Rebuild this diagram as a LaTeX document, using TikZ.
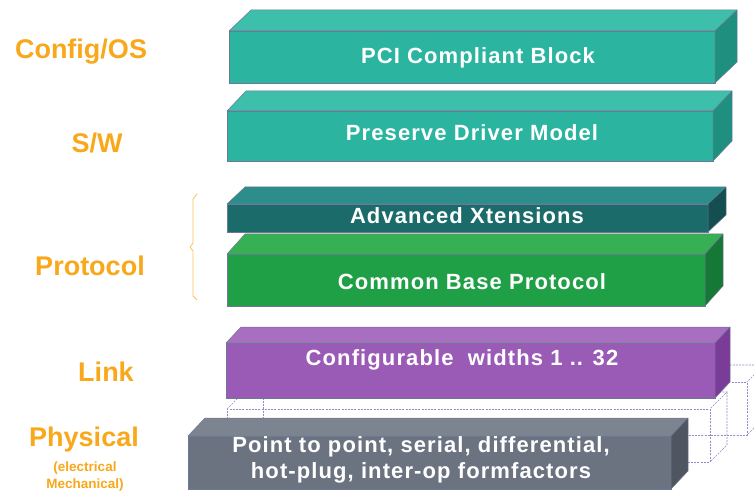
\documentclass[tikz,border=0pt]{standalone}
\usepackage{fontspec}
\setmainfont{Liberation Sans}
\newfontfamily\slabfont[LetterSpace=5]{Liberation Sans}
\definecolor{labelcol}{HTML}{F8A81A}
\definecolor{edgecol}{HTML}{6E7896}
\definecolor{ghostcol}{HTML}{8C8CC8}
\definecolor{tealF}{HTML}{2BB4A0}
\definecolor{tealT}{HTML}{3EBFAB}
\definecolor{tealS}{HTML}{1F8F80}
\definecolor{advF}{HTML}{1B6B6B}
\definecolor{advT}{HTML}{2C8D8A}
\definecolor{advS}{HTML}{134F50}
\definecolor{grnF}{HTML}{20A046}
\definecolor{grnT}{HTML}{36B052}
\definecolor{grnS}{HTML}{167836}
\definecolor{purF}{HTML}{9A5BB6}
\definecolor{purT}{HTML}{A86EC0}
\definecolor{purS}{HTML}{7B3C99}
\definecolor{gryF}{HTML}{6B7381}
\definecolor{gryT}{HTML}{7C8490}
\definecolor{gryS}{HTML}{4F5561}
\tikzset{
  slabface/.style={draw=edgecol, line width=0.5pt, anchor=north west, inner sep=0pt, outer sep=0pt},
  slabedge/.style={draw=edgecol, line width=0.5pt, line join=round},
  slabtext/.style={text=white, font=\slabfont\bfseries\fontsize{22}{26}\selectfont, align=center, inner sep=0pt},
  layerlabel/.style={text=labelcol, font=\bfseries\fontsize{27}{30}\selectfont, inner sep=0pt},
  smalllabel/.style={text=labelcol, font=\bfseries\fontsize{13.5}{15}\selectfont, inner sep=0pt},
  ghost/.style={draw=ghostcol, line width=0.6pt, dash pattern=on 2pt off 1.2pt},
  ghostface/.style={ghost, anchor=north west, inner sep=0pt, outer sep=0pt},
}
% #1 name #2 x #3 y #4 w #5 h #6 dx #7 dy #8 colour prefix
\newcommand{\slab}[8]{%
  \node[slabface, fill=#8F, minimum width=#4pt, minimum height=#5pt] (#1) at (#2,#3) {};
  \filldraw[slabedge, fill=#8T] (#1.north west) -- ++(#6,-#7) -- ++(#4,0) -- (#1.north east) -- cycle;
  \filldraw[slabedge, fill=#8S] (#1.north east) -- ++(#6,-#7) -- ++(0,#5) -- (#1.south east) -- cycle;
}
% #1 name #2 x #3 y #4 w #5 h #6 d
\newcommand{\ghostbox}[6]{%
  \node[ghostface, minimum width=#4pt, minimum height=#5pt] (#1) at (#2,#3) {};
  \draw[ghost] (#1.north west) -- ++(#6,-#6) -- ++(#4,0) -- (#1.north east);
  \draw[ghost] (#1.north east) ++(#6,-#6) -- ++(0,#5) -- (#1.south east);
}
\begin{document}
\begin{tikzpicture}[x=1pt,y=-1pt]
\useasboundingbox (0,0) rectangle (754,494);
\clip (0,0) rectangle (754,494);
\fill[white] (0,0) rectangle (754,494);

% wireframe lanes behind link / physical
\ghostbox{laneB}{263}{382}{484}{53}{17}
\ghostbox{laneA}{227}{409}{483}{53}{17}

% solid slabs
\slab{pci}{229}{31}{486}{52}{22}{21}{teal}
\slab{pdm}{227}{111}{486}{50}{19}{20}{teal}
\slab{adv}{227}{204}{481}{28}{18}{17}{adv}
\slab{cbp}{227}{254}{478}{52}{18}{20}{grn}
\slab{lnk}{226}{343}{489}{55}{15}{16}{pur}
\slab{phy}{188}{436}{483}{53}{17}{18}{gry}

% slab texts
\node[slabtext] (tpci) at (478,58) {PCI Compliant Block};
\node[slabtext] (tpdm) at (472,133) {Preserve Driver Model};
\node[slabtext] (tadv) at (467,216) {Advanced Xtensions};
\node[slabtext] (tcbp) at (472,282) {Common Base Protocol};
\node[slabtext] (tlnk) at (462,360) {Configurable\ \ widths 1 .. 32};
\node[slabtext] (tphy) at (421,460) {Point to point, serial, differential,\\hot-plug, inter-op formfactors};

% layer labels
\node[layerlabel] (lcfg) at (81,52) {Config/OS};
\node[layerlabel] (lsw) at (97,143) {S/W};
\node[layerlabel] (lpro) at (90,266) {Protocol};
\node[layerlabel] (llnk) at (106,372) {Link};
\node[layerlabel] (lphy) at (84,440) {Physical};
\node[smalllabel] (lel) at (85,468) {(electrical};
\node[smalllabel] (lme) at (85,485) {Mechanical)};

% brace
\draw[labelcol!70, line width=0.8pt, line join=round]
  (197,194) -- (193,199) -- (193,243) -- (190,247) -- (193,251) -- (193,296) -- (197,300);
\end{tikzpicture}
\end{document}
